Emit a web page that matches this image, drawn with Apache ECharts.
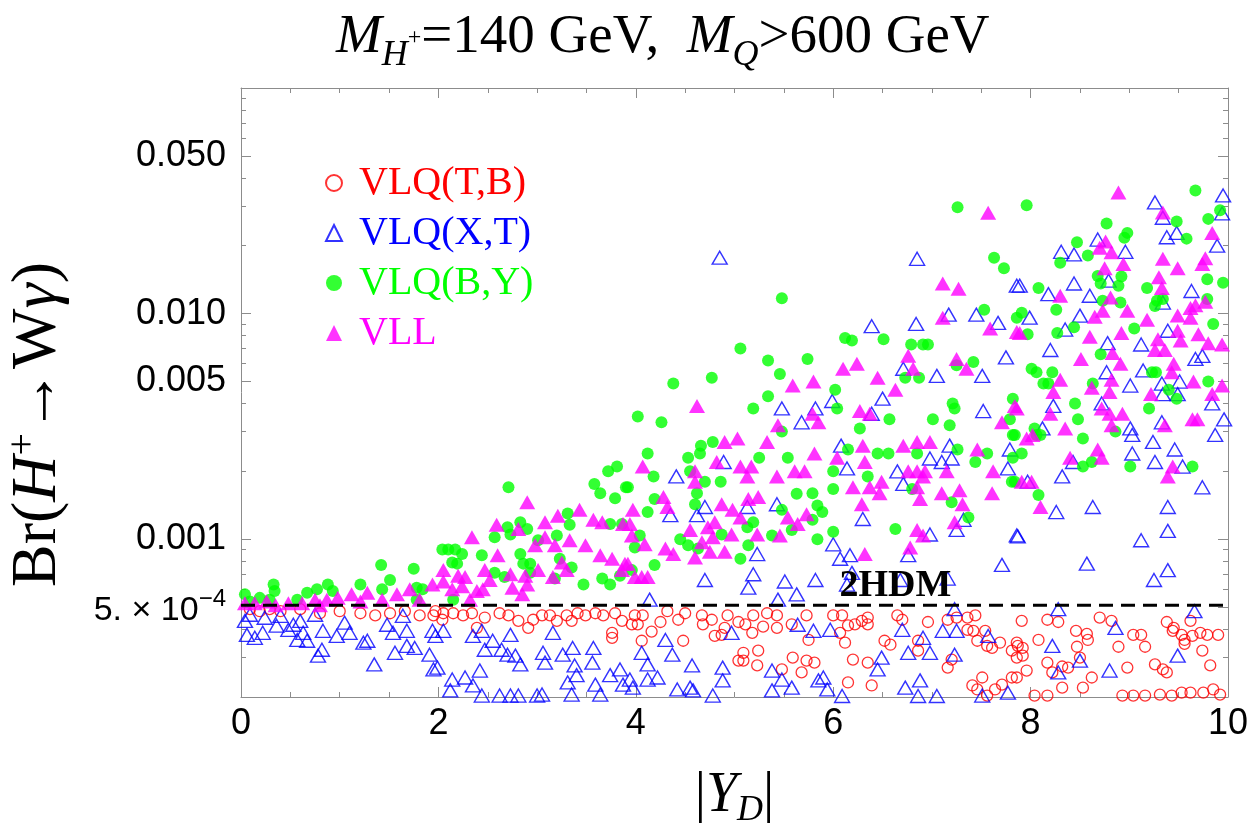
<!DOCTYPE html>
<html>
<head>
<meta charset="utf-8">
<title>Br(H+ to W gamma) vs |Y_D|</title>
<script src="https://cdn.jsdelivr.net/npm/echarts@6/dist/echarts.min.js"></script>
<style>
  html, body { margin: 0; background: #fff; }
  #chart { width: 1250px; height: 836px; }
</style>
</head>
<body>
<div id="chart"></div>
<script>
// [|Y_D|, Br] points
const vlqTB = [
  [0.09,4.9e-4],[0.19,4.8e-4],[0.29,4.9e-4],[0.40,4.8e-4],[0.60,4.9e-4],[0.80,4.7e-4],[1.00,4.8e-4],[1.21,4.7e-4],[1.36,4.6e-4],[1.51,4.7e-4],[1.66,4.8e-4],[1.81,4.6e-4],[1.97,4.8e-4],
  [1.95,4.6e-4],[2.05,4.7e-4],[2.04,4.4e-4],[2.15,4.7e-4],[2.25,4.6e-4],[2.34,4.7e-4],[2.39,4.05e-4],[2.47,4.5e-4],[2.62,4.7e-4],[2.71,4.6e-4],[2.81,4.35e-4],[2.91,4.05e-4],[2.96,4.4e-4],[3.05,4.6e-4],[3.13,4.6e-4],[3.20,4.35e-4],[3.30,4.6e-4],[3.35,4.35e-4],[3.41,4.7e-4],[3.49,4.6e-4],[3.59,4.7e-4],[3.67,4.6e-4],[3.76,3.85e-4],[3.76,3.66e-4],[3.86,4.35e-4],[3.79,4.7e-4],
  [3.99,4.6e-4],[4.07,4.6e-4],[4.32,4.8e-4],[4.50,4.7e-4],[4.67,4.6e-4],[4.77,4.4e-4],[4.93,4.6e-4],[5.04,4.3e-4],[5.19,4.6e-4],[5.33,4.7e-4],[5.43,4.6e-4],[5.73,4.6e-4],[3.96,4.2e-4],[4.02,4.2e-4],[4.25,4.3e-4],[4.43,4.4e-4],[4.68,4.2e-4],[4.90,4.05e-4],[4.80,3.73e-4],[4.87,3.77e-4],[5.11,4.2e-4],[5.18,3.85e-4],[5.29,4.1e-4],[5.43,4.05e-4],[5.58,4.2e-4],[5.75,3.58e-4],[4.16,3.9e-4],[4.06,3.55e-4],[4.48,3.55e-4],[5.09,3.14e-4],[5.24,3.21e-4],[5.09,2.9e-4],[5.04,2.9e-4],[5.23,2.76e-4],[5.59,2.99e-4],[5.73,2.9e-4],[5.81,2.84e-4],[5.68,2.57e-4],[5.48,2.65e-4],
  [6.00,4.6e-4],[6.09,4.6e-4],[6.15,4.15e-4],[6.22,4.2e-4],[6.29,4.35e-4],[6.35,4.5e-4],[6.35,4.2e-4],[6.07,3.85e-4],[6.12,3.48e-4],[6.65,4.6e-4],[6.70,4.4e-4],[6.52,3.55e-4],[6.58,3.41e-4],[6.96,4.3e-4],[6.86,3.55e-4],[6.86,3.21e-4],[7.16,4.4e-4],[7.25,4.5e-4],[7.36,4.5e-4],[7.44,4.6e-4],[7.36,3.97e-4],[7.42,3.93e-4],[7.54,3.93e-4],[7.46,3.55e-4],[7.56,3.37e-4],[7.69,3.48e-4],[7.61,3.3e-4],[7.81,3.21e-4],[7.86,3.48e-4],[6.20,2.93e-4],[6.35,2.84e-4],[7.16,2.7e-4],[7.20,2.93e-4],[7.51,2.44e-4],[7.81,2.44e-4],[6.15,2.32e-4],[6.39,2.25e-4],[7.41,2.25e-4],[7.46,2.16e-4],[7.64,2.16e-4],[7.71,2.27e-4],[7.56,2.03e-4],
  [7.91,4.35e-4],[8.17,4.4e-4],[8.28,4.3e-4],[8.70,4.5e-4],[8.82,4.35e-4],[8.46,3.93e-4],[8.57,3.81e-4],[8.58,3.58e-4],[9.04,3.77e-4],[9.12,3.77e-4],[9.38,4.3e-4],[9.45,4.05e-4],[9.44,3.93e-4],[9.53,3.77e-4],[9.56,3.58e-4],[9.56,3.44e-4],[9.64,3.73e-4],[9.72,3.85e-4],[9.79,3.77e-4],[9.90,3.77e-4],[9.62,4.35e-4],[8.08,3.58e-4],[7.87,3.37e-4],[7.92,3.3e-4],[7.92,3.05e-4],[7.86,2.99e-4],[8.47,3.34e-4],[8.89,3.34e-4],[9.16,3.34e-4],[9.74,3.21e-4],[8.17,2.84e-4],[7.96,2.62e-4],[8.22,2.57e-4],[8.32,2.73e-4],[8.38,2.7e-4],[8.50,2.99e-4],[8.62,2.44e-4],[8.98,2.7e-4],[9.26,2.79e-4],[9.34,2.65e-4],[9.38,2.57e-4],[9.82,2.76e-4],[7.86,2.44e-4],[8.32,2.2e-4],[8.53,2.2e-4],[8.04,2.03e-4],[8.17,2.03e-4],[8.93,2.03e-4],[9.04,2.03e-4],[9.16,2.03e-4],[9.31,2.05e-4],[9.43,2.03e-4],[9.53,2.09e-4],[9.62,2.09e-4],[9.75,2.09e-4],[9.85,2.16e-4],[9.92,2.05e-4]
];

const vlqXT = [
  [0.04,4.35e-4],[0.06,3.77e-4],[0.14,3.66e-4],[0.22,3.85e-4],[0.36,4.14e-4],[0.48,3.97e-4],[0.53,4.18e-4],[0.57,3.58e-4],[0.63,3.85e-4],[0.67,3.55e-4],[0.82,3.24e-4],[0.78,3.05e-4],[0.83,3.93e-4],[0.97,3.73e-4],[1.05,4.27e-4],[1.10,3.85e-4],[1.24,3.48e-4],[1.28,3.55e-4],[1.35,2.79e-4],[1.48,4.18e-4],[1.54,3.85e-4],[1.56,3.14e-4],[1.68,3.93e-4],[1.68,3.37e-4],[1.76,3.30e-4],[1.64,4.58e-4],[1.91,3.08e-4],[1.94,3.93e-4],[1.95,2.65e-4],[0.09,4.63e-4],[0.24,4.49e-4],[0.40,4.58e-4],[0.60,4.35e-4],[0.75,4.63e-4],
  [1.97,3.73e-4],[2.05,3.93e-4],[1.99,2.70e-4],[2.35,3.73e-4],[2.44,3.93e-4],[2.47,3.24e-4],[2.55,3.55e-4],[2.64,3.24e-4],[2.73,3.77e-4],[2.70,3.08e-4],[2.78,3.05e-4],[2.83,2.79e-4],[3.06,3.14e-4],[3.08,2.84e-4],[3.16,3.85e-4],[3.26,3.08e-4],[3.36,3.30e-4],[3.38,2.76e-4],[3.57,3.30e-4],[3.56,2.84e-4],[2.14,2.39e-4],[2.27,2.44e-4],[2.42,2.62e-4],[2.12,2.14e-4],[2.35,2.25e-4],[3.31,2.32e-4],[3.40,2.50e-4],[3.59,2.27e-4],[3.74,2.50e-4],[3.84,2.65e-4],[3.87,2.27e-4],[2.44,2.03e-4],[2.62,2.03e-4],[2.73,2.03e-4],[2.81,2.03e-4],[3.00,2.03e-4],[3.05,2.05e-4],[3.35,2.05e-4],[3.64,2.05e-4],
  [5.48,0.0038],[5.68,0.0033],[5.82,0.0038],[4.89,0.0022],[4.41,0.0019],[4.85,0.0177],
  [4.35,0.00128],[4.62,0.00128],[4.70,0.00139],[5.13,0.00139],[5.43,0.00143],[5.23,0.00086],[5.19,0.00070],[5.14,0.00061],[4.70,0.00066],[5.51,0.00065],[5.63,0.00057],[5.82,0.00066],[5.44,0.00054],[4.14,0.00054],[4.30,3.58e-4],[4.37,3.08e-4],[4.06,3.14e-4],[4.12,2.79e-4],[4.57,2.76e-4],[4.88,2.70e-4],[4.97,3.85e-4],[5.38,2.62e-4],[4.88,2.37e-4],[4.22,2.44e-4],[4.12,2.39e-4],[3.94,2.39e-4],[3.97,2.20e-4],[4.42,2.16e-4],[4.55,2.20e-4],[4.58,2.14e-4],[4.78,2.03e-4],[5.48,2.39e-4],[5.58,2.20e-4],[5.85,2.37e-4],[5.64,4.18e-4],[5.80,3.93e-4],[5.38,2.14e-4],
  [6.85,0.0175],[7.86,0.0133],[7.17,0.0099],[7.45,0.0099],[7.67,0.0091],[6.39,0.0088],[6.84,0.0090],[7.75,0.0064],[7.05,0.0053],[7.51,0.0053],[6.71,0.0057],[6.50,0.0042],[5.99,0.0041],[7.52,0.0037],[6.39,0.0036],[6.08,0.0026],[7.18,0.0026],[7.79,0.0025],
  [6.14,0.00206],[6.65,0.0020],[6.71,0.00176],[6.98,0.00228],[7.10,0.0022],[7.20,0.00228],[7.77,0.00206],[6.30,0.00123],[6.00,0.00095],[6.17,0.00085],[6.07,0.00082],[6.19,0.00071],[6.76,0.00085],[6.98,0.00105],[7.25,0.0011],[7.32,0.00122],[7.86,0.00104],[7.71,0.00077],[6.14,0.00063],[6.68,0.00066],[7.16,0.00067],[7.23,0.00049],[5.97,3.97e-4],[6.70,3.97e-4],[6.91,3.66e-4],[7.11,3.93e-4],[7.25,3.93e-4],[7.57,3.73e-4],[6.76,3.14e-4],[6.98,3.14e-4],[7.23,3.08e-4],[6.49,2.99e-4],[6.45,2.65e-4],[5.90,2.44e-4],[5.94,2.16e-4],[6.73,2.20e-4],[6.88,2.37e-4],[6.86,2.02e-4],[7.05,2.02e-4],[6.09,2.02e-4],[7.77,2.09e-4],[7.51,2.03e-4],
  [9.26,0.0311],[9.34,0.0266],[9.95,0.0334],[9.94,0.0278],[9.38,0.0218],[9.48,0.0228],[9.89,0.0200],[8.31,0.0188],[8.44,0.0183],[8.68,0.0213],[8.96,0.0188],[8.44,0.0136],[8.79,0.0140],[8.60,0.0120],[7.89,0.0133],[8.18,0.0122],[9.63,0.0126],[9.34,0.0112],[8.50,0.0098],[7.99,0.0096],[8.35,0.0085],[9.39,0.0084],[8.78,0.0074],[9.12,0.0073],[8.20,0.0069],[9.67,0.0063],[9.74,0.0065],[8.77,0.0055],[9.14,0.0056],[9.01,0.0048],[9.33,0.0049],[9.51,0.0050],[9.34,0.0044],[9.49,0.0044],[9.84,0.0040],[8.23,0.0039],[8.72,0.0040],[9.96,0.0034],[9.33,0.0033],[9.01,0.0031],[8.12,0.0031],
  [9.03,0.0029],[9.24,0.0027],[9.87,0.0029],[9.46,0.0025],[9.03,0.0024],[9.26,0.0022],[9.54,0.0021],[8.43,0.0022],[8.32,0.0019],[7.97,0.0018],[9.74,0.0017],[9.39,0.00139],[8.63,0.00139],[8.26,0.00132],[7.87,0.00103],[9.39,0.00109],[9.12,0.00099],[8.57,0.00078],[9.39,0.00073],[9.25,0.00066],[8.28,0.00049],[9.66,0.00048],[8.86,4.05e-4],[8.22,3.37e-4],[8.50,2.90e-4],[8.28,2.57e-4],[8.80,2.62e-4],[9.49,3.05e-4]
];

const vlqBY = [
  [0.04,5.7e-4],[0.19,5.5e-4],[0.33,6.3e-4],[0.34,5.9e-4],[0.57,5.4e-4],[0.67,5.8e-4],[0.77,6.0e-4],[0.88,6.3e-4],[0.93,5.9e-4],[1.21,6.3e-4],[1.42,7.7e-4],[1.43,6.0e-4],[1.51,6.6e-4],[1.75,7.4e-4],[1.78,6.1e-4],[1.84,6.0e-4],[1.78,5.4e-4],[0.09,5.3e-4],[0.29,5.4e-4],
  [2.71,0.0017],[3.72,0.0020],[3.81,0.0021],[3.58,0.00176],[3.90,0.0017],[3.79,0.00152],[3.64,0.0016],[3.31,0.0013],[3.33,0.00116],[3.74,0.00117],[3.86,0.00117],[2.70,0.00113],[2.73,0.00105],[2.83,0.00119],[2.90,0.00111],[2.57,0.00102],[3.20,0.00104],[3.01,0.00099],[2.04,0.0009],[2.10,0.0009],[2.17,0.0009],[2.24,0.00086],[2.14,0.00079],[2.19,0.00078],[2.44,0.00085],[2.83,0.00086],[2.86,0.00078],[2.93,0.00078],[3.23,0.00082],[3.35,0.00075],[2.57,0.00071],[2.67,0.00068],[2.93,0.00071],[3.18,0.00067],[3.47,0.00063],[3.66,0.00067],[3.74,0.00063],[3.84,0.00069],[2.15,0.00054],
  [5.48,0.0117],[5.06,0.0070],[5.34,0.0062],[5.74,0.0063],[5.46,0.0054],[4.77,0.0052],[4.38,0.0049],[5.34,0.0043],[5.19,0.0038],[4.02,0.0035],[4.26,0.0033],[4.78,0.0027],[4.66,0.0026],[4.65,0.0024],[4.53,0.0023],[4.12,0.0024],[5.25,0.0023],[5.54,0.0023],[5.48,0.0030],[4.18,0.0019],[4.70,0.0018],[4.86,0.0018],[3.92,0.0017],[4.55,0.0020],
  [4.19,0.00151],[4.12,0.00132],[4.62,0.0016],[4.60,0.00143],[5.63,0.00159],[5.79,0.0016],[5.84,0.00141],[5.48,0.00135],[5.79,0.00122],[4.45,0.0010],[4.53,0.00094],[4.63,0.00091],[4.04,0.00104],[3.99,0.00092],[4.87,0.00105],[5.19,0.00119],[5.13,0.00113],[5.38,0.00104],[5.58,0.0011],[5.06,0.00082],[4.19,0.00077],[3.96,0.00073],[5.84,0.0010],[5.14,0.00094],
  [7.26,0.0296],[7.63,0.0177],[7.73,0.0159],[7.53,0.0104],[7.86,0.0096],[6.12,0.0078],[6.19,0.0076],[6.51,0.0077],[6.79,0.0073],[6.91,0.0073],[6.96,0.0073],[7.42,0.0061],[7.25,0.0059],[6.73,0.0052],[6.87,0.0052],[6.02,0.0046],[6.04,0.0038],[7.21,0.0040],[7.23,0.0038],[7.01,0.0034],[6.57,0.0034],[7.18,0.0032],[7.82,0.0042],[7.79,0.0034],[7.82,0.0029],[6.27,0.0031],[6.15,0.0025],[6.45,0.0024],[6.56,0.0024],[6.85,0.0024],[7.56,0.0024],[7.26,0.0025],
  [6.00,0.0020],[6.00,0.00167],[6.35,0.0019],[5.89,0.00132],[6.63,0.00111],[6.00,0.00108],[7.20,0.00146],[7.37,0.00125],[7.81,0.0018],[7.44,0.0022],[7.82,0.0023],[6.80,0.00167],
  [7.96,0.0302],[9.67,0.0351],[9.92,0.0287],[9.80,0.0263],[9.48,0.0256],[9.58,0.0215],[8.77,0.0251],[8.98,0.0228],[8.95,0.0217],[8.47,0.0207],[8.58,0.0181],[8.30,0.0168],[8.68,0.0147],[8.71,0.0136],[8.92,0.0146],[8.89,0.0133],[8.08,0.0130],[9.18,0.0130],[9.79,0.0142],[9.95,0.0137],[8.73,0.0114],[8.91,0.0112],[9.28,0.0114],[9.34,0.0116],[9.26,0.0108],[9.79,0.0116],[8.26,0.0104],[7.91,0.0101],[8.44,0.0087],[8.27,0.0082],[7.97,0.0081],[9.05,0.0086],[9.85,0.0090],[8.71,0.0066],[8.01,0.0057],[8.06,0.0055],[8.22,0.0055],[8.13,0.0049],[8.18,0.0049],[9.23,0.0055],[9.27,0.0055],[9.40,0.0046],[9.48,0.0042],[9.80,0.0050],[8.63,0.0049],[8.45,0.0040],[8.48,0.0034],[9.20,0.0038],[8.04,0.0031],
  [7.84,0.0029],[7.91,0.0024],[8.06,0.0029],[8.10,0.0029],[8.53,0.0028],[8.86,0.0030],[8.53,0.0021],[8.62,0.0022],[9.01,0.0021],[9.64,0.0021],[8.08,0.00157],[7.84,0.0018]
];

const vll = [
  [0.04,5.2e-4],[0.14,5.2e-4],[0.26,5.3e-4],[0.48,5.2e-4],[0.62,5.2e-4],[0.75,5.4e-4],[0.87,5.4e-4],[0.98,5.5e-4],[1.12,5.7e-4],[1.28,5.8e-4],[1.43,5.4e-4],[1.58,5.7e-4],[1.71,6.0e-4],[1.94,6.3e-4],[0.35,5.1e-4],[0.80,5.1e-4],[1.21,5.3e-4],[1.81,5.4e-4],
  [2.90,0.00146],[2.34,0.00102],[2.59,0.00116],[2.81,0.00111],[3.08,0.00119],[3.21,0.00127],[3.43,0.00135],[3.57,0.00122],[3.66,0.00119],[3.87,0.00117],[2.60,0.00085],[2.98,0.00094],[3.08,0.00102],[3.18,0.00094],[3.33,0.00099],[3.49,0.00094],[3.64,0.00085],[3.76,0.00082],[3.25,0.00079],[3.30,0.00073],[3.89,0.00078],[2.05,0.00073],[2.20,0.00069],[2.27,0.00068],[2.47,0.00073],[2.52,0.00066],[2.73,0.0007],[2.88,0.00069],[3.01,0.00073],[3.16,0.00068],[3.86,0.00073],[2.05,0.00065],[2.14,0.0006],[2.24,0.00062],[2.39,0.00059],[2.45,0.0006],[2.75,0.00061],[2.90,0.00063],[2.85,0.00057],[2.32,0.00054],
  [4.62,0.0039],[5.59,0.0048],[5.80,0.0050],[5.44,0.0032],[5.85,0.0033],[5.79,0.0036],[4.90,0.0027],[5.03,0.0028],[5.33,0.0027],[5.81,0.0024],[4.07,0.0021],[4.60,0.0020],[4.82,0.0022],[5.06,0.0021],[5.17,0.0021],[5.43,0.0019],[5.61,0.0020],[5.71,0.0020],[5.13,0.0019],[4.60,0.0018],
  [4.28,0.00154],[4.32,0.00139],[3.97,0.00135],[3.94,0.00117],[3.96,0.00104],[4.09,0.00095],[4.30,0.00091],[4.38,0.00086],[4.60,0.00083],[4.75,0.00088],[4.90,0.00088],[4.55,0.0011],[4.73,0.00113],[4.80,0.00119],[4.87,0.00143],[4.98,0.00135],[5.06,0.00125],[4.97,0.00105],[4.78,0.00102],[4.67,0.00097],[5.24,0.00154],[5.14,0.00151],[5.23,0.00105],[5.46,0.00104],[5.54,0.00125],[5.64,0.00117],[5.73,0.00129],[3.92,0.00078],[3.99,0.00068],[4.06,0.00068],[4.12,0.00068],
  [7.11,0.0136],[7.27,0.0129],[7.11,0.0096],[7.59,0.0086],[7.86,0.0083],[6.76,0.0065],[6.81,0.0057],[6.24,0.0060],[6.10,0.0057],[6.45,0.0052],[7.25,0.0063],[7.35,0.0057],[6.63,0.0046],[6.27,0.0037],[6.37,0.0036],[7.71,0.0033],[7.84,0.0039],[6.30,0.0026],[6.71,0.0026],[6.85,0.0027],[6.98,0.0027],[7.46,0.0025],[6.04,0.0023],[7.57,0.0280],
  [6.32,0.0022],[6.76,0.0020],[6.85,0.0020],[6.93,0.0020],[7.15,0.0020],[7.62,0.0020],[6.20,0.0017],[6.37,0.0017],[6.49,0.0018],[6.47,0.0016],[6.85,0.0017],[6.91,0.0019],[7.10,0.0016],[7.28,0.00165],[7.61,0.0016],[6.29,0.00143],[6.88,0.00151],[7.31,0.00143],[7.23,0.00119],[6.85,0.0011],[6.91,0.00104],[6.78,0.00092],[6.32,0.00086],
  [8.89,0.0344],[9.34,0.0281],[9.84,0.0228],[8.76,0.0209],[8.70,0.0196],[8.82,0.0187],[8.94,0.0166],[8.75,0.0159],[9.34,0.0175],[9.49,0.0159],[9.77,0.0176],[9.74,0.0166],[9.30,0.0145],[9.33,0.0130],[8.81,0.0118],[8.30,0.0120],[8.73,0.0103],[8.65,0.0097],[8.98,0.0103],[9.18,0.0094],[9.49,0.0098],[9.62,0.0106],[9.67,0.0109],[9.77,0.0113],[9.62,0.0096],[7.89,0.0082],[8.60,0.0079],[8.92,0.0082],[9.49,0.0084],[9.70,0.0081],[9.80,0.0074],[9.94,0.0073],[9.29,0.0077],[9.26,0.0069],[9.36,0.0069],[9.52,0.0076],[8.83,0.0067],[8.51,0.0063],[8.91,0.0060],[9.45,0.0060],[9.43,0.0055],[8.30,0.0051],[8.82,0.0051],[8.23,0.0045],[8.62,0.0047],[8.80,0.0045],[9.22,0.0044],[9.65,0.0050],[9.84,0.0044],[9.94,0.0048],[8.20,0.0036],[8.72,0.0038],[8.80,0.0036],[8.93,0.0036],[9.64,0.0034],[9.69,0.0034],[7.86,0.0038],[9.36,0.0032],[8.35,0.0031],
  [7.96,0.0028],[8.02,0.0029],[8.82,0.0032],[8.68,0.0025],[8.72,0.0023],[8.40,0.0023],[7.91,0.0018],[8.01,0.0018],[8.10,0.00139],[9.44,0.0021],[9.39,0.0019]
];

const hdmLevel = 5.1e-4;      // 2HDM reference line
const hdmLine = [[0, hdmLevel], [10, hdmLevel]];
const hdmLabelAt = [6.63, 6.2e-4];
const yMin = 2e-4, yMax = 0.1;
const majorTicks = [5e-4, 0.001, 0.005, 0.01, 0.05];
const majorText = ['{m|5. × 10}{s|−4}', '0.001', '0.005', '0.010', '0.050'];
const minorTicks = [3e-4, 4e-4, 6e-4, 7e-4, 8e-4, 9e-4, 0.002, 0.003, 0.004, 0.006, 0.007, 0.008, 0.009, 0.02, 0.03, 0.04, 0.06, 0.07, 0.08, 0.09];

const frame = '#8c8c8c';
const serif = 'Liberation Serif';
const sans = 'Liberation Sans';
const lg = Math.log10;

// overlay value axes in log10 space, only to draw Mathematica-style log ticks
function tickAxis(pos, values, len, labels) {
  const ax = {
    type: 'value', position: pos, min: lg(yMin), max: lg(yMax),
    axisLine: { show: false }, splitLine: { show: false },
    axisTick: { show: true, inside: true, length: len, customValues: values.map(lg), lineStyle: { color: frame } },
    axisLabel: { show: false }
  };
  if (labels) {
    ax.axisLabel = {
      show: true, customValues: values.map(lg), margin: 15,
      color: '#000', fontFamily: sans, fontSize: 36,
      formatter: v => labels[values.findIndex(t => Math.abs(lg(t) - v) < 1e-6)] || '',
      rich: {
        m: { fontFamily: sans, fontSize: 34, color: '#000', lineHeight: 40, verticalAlign: 'bottom' },
        s: { fontFamily: sans, fontSize: 24, color: '#000', lineHeight: 26, verticalAlign: 'top' }
      }
    };
  }
  return ax;
}

function xFrame(pos, withLabels) {
  return {
    type: 'value', position: pos, min: 0, max: 10, interval: 2,
    axisLine: { show: true, lineStyle: { color: frame, width: 1 } },
    axisTick: { show: true, inside: true, length: 10, lineStyle: { color: frame } },
    minorTick: { show: true, splitNumber: 4, length: 5, lineStyle: { color: frame } },
    splitLine: { show: false },
    axisLabel: withLabels ? { show: true, color: '#000', fontFamily: sans, fontSize: 36, margin: 9 } : { show: false }
  };
}

const chart = echarts.init(document.getElementById('chart'));
chart.setOption({
  animation: false,
  backgroundColor: '#fff',
  title: {
    left: 336, top: 2, padding: 0,
    text: '{i|M}{sub|H}{sup|+}{r|=140 GeV,  }{i|M}{sub|Q}{r|>600 GeV}',
    textStyle: {
      fontWeight: 'normal',
      rich: {
        r: { fontFamily: serif, fontSize: 55, fontWeight: 'normal', color: '#000', lineHeight: 72 },
        i: { fontFamily: serif, fontSize: 55, fontWeight: 'normal', fontStyle: 'italic', color: '#000', lineHeight: 72 },
        sub: { fontFamily: serif, fontSize: 36, fontWeight: 'normal', fontStyle: 'italic', color: '#000', lineHeight: 40, verticalAlign: 'bottom' },
        sup: { fontFamily: serif, fontSize: 24, fontWeight: 'normal', color: '#000', lineHeight: 34, verticalAlign: 'middle' }
      }
    }
  },
  grid: { left: 241, right: 22, top: 88, bottom: 139, outerBoundsMode: 'none' },
  legend: {
    orient: 'vertical', left: 320, top: 158, itemGap: 10,
    itemWidth: 16, itemHeight: 16, selectedMode: false,
    textStyle: { fontFamily: serif, fontSize: 40, padding: [0, 0, 0, 12] },
    data: [
      { name: 'VLQ(T,B)', textStyle: { color: '#ff0000' } },
      { name: 'VLQ(X,T)', textStyle: { color: '#0000ff' } },
      { name: 'VLQ(B,Y)', textStyle: { color: '#00ff00' } },
      { name: 'VLL', textStyle: { color: '#ff00ff' } }
    ]
  },
  xAxis: [
    Object.assign(xFrame('bottom', true), {
      name: '{b||}{i|Y}{d|D}{b||}', nameLocation: 'middle', nameGap: 66,
      nameTextStyle: {
        rich: {
          b: { fontFamily: serif, fontSize: 56, color: '#000', lineHeight: 66 },
          i: { fontFamily: serif, fontSize: 56, fontStyle: 'italic', color: '#000', lineHeight: 66 },
          d: { fontFamily: serif, fontSize: 36, fontStyle: 'italic', color: '#000', lineHeight: 40, verticalAlign: 'bottom' }
        }
      }
    }),
    xFrame('top', false)
  ],
  yAxis: [
    {
      type: 'log', logBase: 10, min: yMin, max: yMax, position: 'left',
      axisLine: { show: true, lineStyle: { color: frame, width: 1 } },
      axisTick: { show: false }, axisLabel: { show: false }, splitLine: { show: false },
      name: '{r|Br(}{i|H}{p|+}{r|→W}{i|γ}{r|)}', nameLocation: 'middle', nameRotate: 90, nameGap: 168,
      nameTextStyle: {
        padding: [0, 64, 0, 0],
        rich: {
          r: { fontFamily: serif, fontSize: 64, color: '#000', lineHeight: 70 },
          i: { fontFamily: serif, fontSize: 64, fontStyle: 'italic', color: '#000', lineHeight: 70 },
          p: { fontFamily: serif, fontSize: 40, color: '#000', lineHeight: 44, verticalAlign: 'top' }
        }
      }
    },
    tickAxis('left', majorTicks, 10, majorText),
    tickAxis('left', minorTicks, 5),
    Object.assign(tickAxis('right', majorTicks, 10), { axisLine: { show: true, lineStyle: { color: frame, width: 1 } } }),
    tickAxis('right', minorTicks, 5)
  ],
  series: [
    {
      name: 'VLQ(T,B)', type: 'scatter', data: vlqTB, symbol: 'circle', symbolSize: 11,
      itemStyle: { color: 'rgba(255,255,255,0)', borderColor: '#ff0000', borderWidth: 1.3 }
    },
    {
      name: 'VLQ(X,T)', type: 'scatter', data: vlqXT, symbol: 'triangle', symbolSize: [15, 13],
      itemStyle: { color: 'rgba(255,255,255,0)', borderColor: '#0000ff', borderWidth: 1.4 }
    },
    {
      name: 'VLQ(B,Y)', type: 'scatter', data: vlqBY, symbol: 'circle', symbolSize: 12,
      itemStyle: { color: '#00ff00' }
    },
    {
      name: 'VLL', type: 'scatter', data: vll, symbol: 'triangle', symbolSize: [16, 14],
      itemStyle: { color: '#ff00ff' }
    },
    {
      name: '2HDM', type: 'line', data: hdmLine, showSymbol: false, silent: true, z: 5,
      lineStyle: { color: '#000', width: 3, type: [14, 8] },
      markPoint: {
        silent: true, symbol: 'circle', symbolSize: 0,
        data: [{ coord: hdmLabelAt }],
        label: {
          show: true, position: 'inside', formatter: '2HDM',
          fontFamily: serif, fontWeight: 'bold', fontSize: 38, color: '#000'
        }
      }
    }
  ]
});
</script>
</body>
</html>
